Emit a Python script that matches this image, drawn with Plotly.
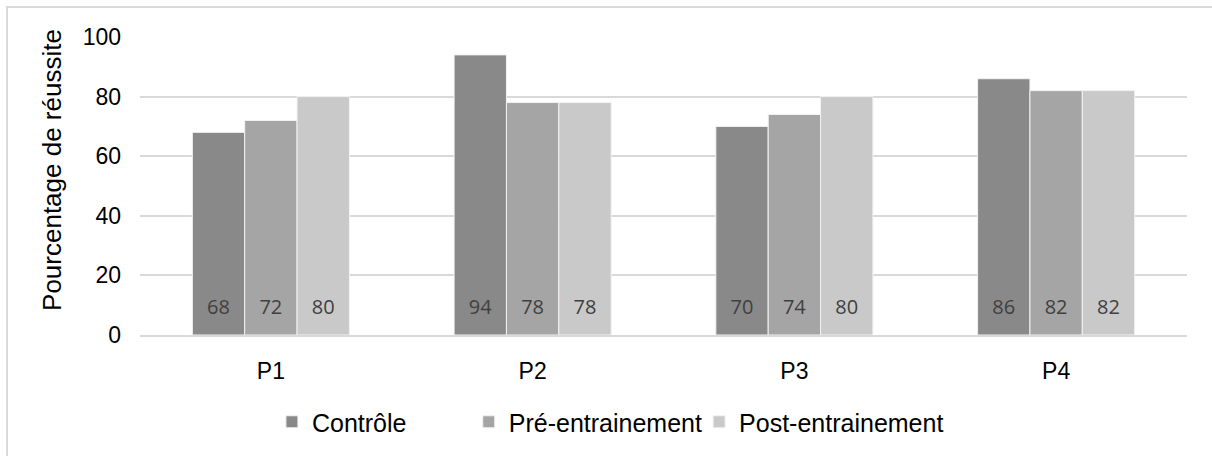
import plotly.graph_objects as go

categories = ["P1", "P2", "P3", "P4"]
series_names = ["Contrôle", "Pré-entrainement", "Post-entrainement"]
controle = [68, 94, 70, 86]
pre = [72, 78, 74, 82]
post = [80, 78, 80, 82]
colors = ["#898989", "#a5a5a5", "#c9c9c9"]
y_ticks = [0, 20, 40, 60, 80, 100]
y_title = "Pourcentage de réussite"
label_level = 8.6

values = [controle, pre, post]
legend_ids = ["legend", "legend2", "legend3"]
legend_x = [0.126, 0.314, 0.534]

fig = go.Figure()
for i, (name, vals, col) in enumerate(zip(series_names, values, colors)):
    fig.add_trace(go.Bar(
        x=categories, y=vals, name=name, marker_color=col,
        marker_line_color="#f2f2f2", marker_line_width=1,
        offsetgroup=str(i), alignmentgroup="a", legend=legend_ids[i],
    ))
for i, vals in enumerate(values):
    fig.add_trace(go.Scatter(
        x=categories, y=[label_level] * len(vals), mode="text",
        text=[str(v) for v in vals], textposition="middle center",
        textfont=dict(family="Open Sans", size=20, color="#404040"),
        offsetgroup=str(i), alignmentgroup="a", showlegend=False,
        hoverinfo="skip",
    ))

legend_common = dict(orientation="h", xanchor="left", y=-0.292, yanchor="middle",
                     font=dict(size=25), bgcolor="rgba(0,0,0,0)")

fig.update_layout(
    width=1212, height=456,
    margin=dict(l=140, r=25, t=37, b=121, autoexpand=False),
    paper_bgcolor="white", plot_bgcolor="white",
    barmode="group", bargap=0.4, bargroupgap=0,
    scattermode="group", scattergap=0.4,
    font=dict(family="Liberation Sans, Arial", size=24, color="#000000"),
    showlegend=True,
    legend=dict(x=legend_x[0], **legend_common),
    legend2=dict(x=legend_x[1], **legend_common),
    legend3=dict(x=legend_x[2], **legend_common),
    shapes=[dict(type="rect", xref="paper", yref="paper",
                 x0=-0.127, x1=1.1, y0=-0.5, y1=1.1007,
                 line=dict(color="#d9d9d9", width=2), layer="below")],
    annotations=[dict(text=y_title, textangle=-90, xref="paper", yref="paper",
                      x=-0.084, y=0.554, xanchor="center", yanchor="middle",
                      showarrow=False, font=dict(size=26, color="#000000"))],
)
fig.update_xaxes(showgrid=False, showline=True, linecolor="#d9d9d9", linewidth=2,
                 ticks="", ticklabelstandoff=14, tickfont=dict(size=23), automargin=False)
fig.update_yaxes(range=[0, 100], tickvals=y_ticks, showgrid=True, gridcolor="#d9d9d9",
                 gridwidth=1.5, zeroline=False, showline=False, ticks="",
                 ticklabelstandoff=18, tickfont=dict(size=23), automargin=False)

fig.write_html("out.html", config={"displayModeBar": False},
               post_script="document.body.style.margin='0';document.body.style.overflow='hidden';")
